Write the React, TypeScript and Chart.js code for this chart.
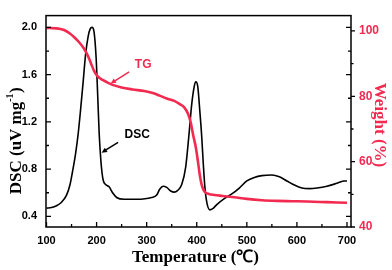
import { useEffect, useRef } from 'react';
import { Chart, registerables } from 'chart.js';

Chart.register(...registerables);

// ---- data ----
const dscTemps = [100, 110, 120, 130, 140, 147, 152, 158, 163, 168, 173, 178, 183, 187, 191, 195, 199, 202, 205, 209, 213, 218, 225, 232, 240, 255, 280, 310, 320, 326, 333, 340, 348, 355, 362, 370, 378, 384, 390, 395, 398, 402, 406, 410, 413, 416, 420, 426, 432, 440, 455, 470, 485, 500, 515, 530, 550, 565, 580, 595, 610, 625, 640, 660, 680, 695, 700];
const dscValues = [0.47, 0.475, 0.49, 0.52, 0.58, 0.67, 0.78, 0.93, 1.09, 1.3, 1.53, 1.77, 1.92, 1.985, 2.0, 1.96, 1.75, 1.45, 1.12, 0.85, 0.71, 0.67, 0.65, 0.6, 0.56, 0.545, 0.545, 0.56, 0.58, 0.63, 0.655, 0.645, 0.615, 0.605, 0.62, 0.67, 0.82, 1.07, 1.35, 1.5, 1.54, 1.5, 1.3, 1.07, 0.85, 0.66, 0.52, 0.455, 0.465, 0.5, 0.55, 0.59, 0.64, 0.7, 0.73, 0.745, 0.75, 0.735, 0.7, 0.665, 0.64, 0.635, 0.64, 0.655, 0.68, 0.7, 0.7];

const tgTemps = [100, 120, 135, 146, 156, 166, 174, 180, 186, 190, 195, 200, 206, 212, 222, 232, 250, 272, 295, 312, 326, 340, 355, 366, 375, 383, 388, 393, 398, 402, 406, 410, 414, 418, 424, 435, 452, 475, 500, 530, 560, 590, 620, 660, 700];
const tgValues = [100.9, 100.8, 100.3, 99.3, 98, 96.4, 94.8, 93.2, 91.2, 89.6, 87.8, 86.5, 85.6, 85, 84.2, 83.5, 82.7, 82.1, 81.6, 81, 80.2, 79.3, 78.6, 77.6, 76.6, 74.5, 72, 68, 64.5, 60.5, 56, 52.8, 51.2, 50.5, 50.1, 49.8, 49.5, 49.1, 48.6, 48.2, 48, 47.9, 47.8, 47.6, 47.4];

const tempTicks = [100, 200, 300, 400, 500, 600, 700];
const dscTicks = [0.4, 0.8, 1.2, 1.6, 2.0];
const weightTicks = [40, 60, 80, 100];

const RED = '#f22a50';
const SANS = '"Liberation Sans", Arial, sans-serif';
const SERIF = '"Liberation Serif", "Times New Roman", serif';

function minorsOf(ticks: number[]) {
  const out: number[] = [];
  for (let i = 0; i < ticks.length - 1; i++) out.push((ticks[i] + ticks[i + 1]) / 2);
  return out;
}

function arrow(ctx: CanvasRenderingContext2D, x1: number, y1: number, x2: number, y2: number, color: string) {
  const ang = Math.atan2(y2 - y1, x2 - x1);
  const len = 6;
  ctx.save();
  ctx.strokeStyle = color;
  ctx.fillStyle = color;
  ctx.lineWidth = 1.5;
  ctx.beginPath();
  ctx.moveTo(x1, y1);
  ctx.lineTo(x2 - Math.cos(ang) * len * 0.7, y2 - Math.sin(ang) * len * 0.7);
  ctx.stroke();
  ctx.beginPath();
  ctx.moveTo(x2, y2);
  ctx.lineTo(x2 - len * Math.cos(ang - 0.45), y2 - len * Math.sin(ang - 0.45));
  ctx.lineTo(x2 - len * Math.cos(ang + 0.45), y2 - len * Math.sin(ang + 0.45));
  ctx.closePath();
  ctx.fill();
  ctx.restore();
}

const framePlugin = {
  id: 'frame',
  afterDraw(chart: any) {
    const { ctx, chartArea: a, scales } = chart;
    const xs = scales.x, yl = scales.y, yr = scales.y1;
    ctx.save();
    ctx.strokeStyle = '#000';
    ctx.lineWidth = 1.5;
    ctx.strokeRect(a.left, a.top, a.right - a.left, a.bottom - a.top);

    ctx.lineWidth = 1.3;
    ctx.beginPath();
    tempTicks.forEach((v) => { const p = xs.getPixelForValue(v); ctx.moveTo(p, a.bottom); ctx.lineTo(p, a.bottom - 5); });
    minorsOf(tempTicks).forEach((v) => { const p = xs.getPixelForValue(v); ctx.moveTo(p, a.bottom); ctx.lineTo(p, a.bottom - 3); });
    dscTicks.forEach((v) => {
      const p = yl.getPixelForValue(v);
      ctx.moveTo(a.left, p); ctx.lineTo(a.left + 5, p);
      ctx.moveTo(a.right, p); ctx.lineTo(a.right - 5, p);
    });
    minorsOf(dscTicks).forEach((v) => {
      const p = yl.getPixelForValue(v);
      ctx.moveTo(a.left, p); ctx.lineTo(a.left + 3, p);
      ctx.moveTo(a.right, p); ctx.lineTo(a.right - 3, p);
    });
    weightTicks.forEach((v) => { const p = yr.getPixelForValue(v); ctx.moveTo(a.right, p); ctx.lineTo(a.right + 4, p); });
    minorsOf(weightTicks).forEach((v) => { const p = yr.getPixelForValue(v); ctx.moveTo(a.right, p); ctx.lineTo(a.right + 2.5, p); });
    ctx.stroke();

    // axis titles
    ctx.fillStyle = '#000';
    ctx.font = `bold 17px ${SERIF}`;
    ctx.textAlign = 'center';
    ctx.textBaseline = 'alphabetic';
    ctx.fillText('Temperature (\u2103)', (a.left + a.right) / 2 - 3, 262);

    ctx.save();
    ctx.translate(21, 141);
    ctx.rotate(-Math.PI / 2);
    const big = `bold 17px ${SERIF}`;
    const small = `bold 10px ${SERIF}`;
    const p1 = 'DSC (uV mg';
    const p2 = '-1';
    const p3 = ')';
    ctx.font = big; const w1 = ctx.measureText(p1).width; const w3 = ctx.measureText(p3).width;
    ctx.font = small; const w2 = ctx.measureText(p2).width;
    let x0 = -(w1 + w2 + w3) / 2;
    ctx.textAlign = 'left';
    ctx.font = big; ctx.fillText(p1, x0, 0); x0 += w1;
    ctx.font = small; ctx.fillText(p2, x0, -8); x0 += w2 + 0.5;
    ctx.font = big; ctx.fillText(p3, x0, 0);
    ctx.restore();

    ctx.save();
    ctx.translate(375, 125);
    ctx.rotate(Math.PI / 2);
    ctx.fillStyle = RED;
    ctx.font = `bold 17px ${SERIF}`;
    ctx.textAlign = 'center';
    ctx.fillText('Weight (%)', 0, 0);
    ctx.restore();

    // annotations
    ctx.font = `bold 12px ${SANS}`;
    ctx.textAlign = 'center';
    ctx.textBaseline = 'middle';
    ctx.fillStyle = RED;
    ctx.fillText('TG', xs.getPixelForValue(293), yr.getPixelForValue(89.7));
    arrow(ctx, xs.getPixelForValue(265), yr.getPixelForValue(87.5), xs.getPixelForValue(228), yr.getPixelForValue(83.9), RED);
    ctx.fillStyle = '#000';
    ctx.fillText('DSC', xs.getPixelForValue(281), yl.getPixelForValue(1.09));
    arrow(ctx, xs.getPixelForValue(243), yl.getPixelForValue(1.027), xs.getPixelForValue(210), yl.getPixelForValue(0.939), '#000');
    ctx.restore();
  },
};

export default function App() {
  const ref = useRef<HTMLCanvasElement | null>(null);
  useEffect(() => {
    if (!ref.current) return;
    const chart = new Chart(ref.current, {
      type: 'line',
      data: {
        datasets: [
          {
            label: 'TG',
            data: tgTemps.map((t, i) => ({ x: t, y: tgValues[i] })),
            yAxisID: 'y1',
            borderColor: RED,
            borderWidth: 2.6,
            pointRadius: 0,
            cubicInterpolationMode: 'monotone',
          },
          {
            label: 'DSC',
            data: dscTemps.map((t, i) => ({ x: t, y: dscValues[i] })),
            yAxisID: 'y',
            borderColor: '#000',
            borderWidth: 1.6,
            pointRadius: 0,
            cubicInterpolationMode: 'monotone',
          },
        ],
      },
      options: {
        responsive: false,
        animation: false,
        layout: { padding: { top: 3, left: 0, right: 0, bottom: 0 } },
        plugins: { legend: { display: false }, tooltip: { enabled: false } },
        scales: {
          x: {
            type: 'linear',
            min: 99,
            max: 708,
            grid: { display: false, drawTicks: false },
            border: { display: false },
            afterBuildTicks: (s: any) => { s.ticks = tempTicks.map((v) => ({ value: v })); },
            afterFit: (s: any) => { s.height = 43; },
            ticks: { color: '#000', font: { family: SANS, size: 11, weight: 'bold' }, padding: 7, maxRotation: 0, callback: (v: any) => String(v) },
          },
          y: {
            position: 'left',
            min: 0.31,
            max: 2.1,
            grid: { display: false, drawTicks: false },
            border: { display: false },
            afterBuildTicks: (s: any) => { s.ticks = dscTicks.map((v) => ({ value: v })); },
            afterFit: (s: any) => { s.width = 46; },
            ticks: { color: '#000', font: { family: SANS, size: 11, weight: 'bold' }, padding: 9, callback: (v: any) => Number(v).toFixed(1) },
          },
          y1: {
            position: 'right',
            min: 40,
            max: 104.7,
            grid: { display: false, drawTicks: false },
            border: { display: false },
            afterBuildTicks: (s: any) => { s.ticks = weightTicks.map((v) => ({ value: v })); },
            afterFit: (s: any) => { s.width = 41; },
            ticks: { color: RED, font: { family: SANS, size: 12, weight: 'bold' }, padding: 8, callback: (v: any) => String(v) },
          },
        },
      } as any,
      plugins: [framePlugin],
    });
    return () => chart.destroy();
  }, []);
  return (
    <div style={{ position: 'absolute', left: 0, top: 0, width: 392, height: 270, background: '#fff' }}>
      <canvas ref={ref} width={392} height={270} />
    </div>
  );
}
